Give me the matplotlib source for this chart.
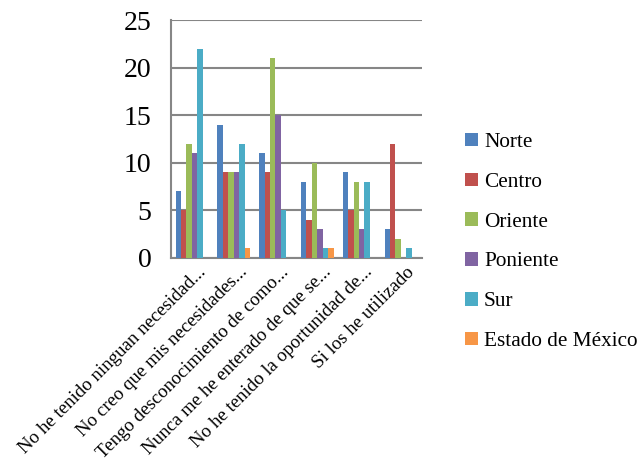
import numpy as np
import matplotlib.pyplot as plt

categories = ['No he tenido ninguan necesidad...',
              'No creo que mis necesidades...',
              'Tengo desconocimiento de como...',
              'Nunca me he enterado de que se...',
              'No he tenido la oportunidad de...',
              'Si los he utilizado']
series = ['Norte', 'Centro', 'Oriente', 'Poniente', 'Sur', 'Estado de México']
norte = [7, 14, 11, 8, 9, 3]
centro = [5, 9, 9, 4, 5, 12]
oriente = [12, 9, 21, 10, 8, 2]
poniente = [11, 9, 15, 3, 3, 0]
sur = [22, 12, 5, 1, 8, 1]
edomex = [0, 1, 0, 1, 0, 0]
colors = ['#4F81BD', '#C0504D', '#9BBB59', '#8064A2', '#4BACC6', '#F79646']

plt.rcParams['font.family'] = ['Liberation Serif', 'DejaVu Serif']

fig = plt.figure(figsize=(6.38, 4.68), dpi=100)
ax = fig.add_axes([0.268, 0.449, 0.393, 0.508])

ind = np.arange(len(categories))
width = 0.13
values = [norte, centro, oriente, poniente, sur, edomex]
for i, (name, vals) in enumerate(zip(series, values)):
    ax.bar(ind + (i - 2.5) * width, vals, width, color=colors[i], label=name, zorder=3)

ax.set_xlim(-0.5, len(categories) - 0.5)
ax.set_ylim(0, 25)
ax.set_yticks(np.arange(0, 26, 5))
ax.yaxis.grid(True, color='#868686', linewidth=1.5, zorder=0)
ax.tick_params(axis='y', length=0, labelsize=20, pad=14)
ax.tick_params(axis='x', length=0, labelsize=13.6, pad=4)
ax.set_xticks(ind + 0.12)
ax.set_xticklabels(categories, rotation=45, ha='right', rotation_mode='anchor')
for s in ['top', 'right']:
    ax.spines[s].set_visible(False)
for s in ['left', 'bottom']:
    ax.spines[s].set_color('#868686')
    ax.spines[s].set_linewidth(1.5)

ax.legend(loc='center left', bbox_to_anchor=(1.096, 0.067), frameon=False,
          fontsize=15.3, handlelength=0.6, handleheight=0.6, handletextpad=0.3,
          labelspacing=0.97)

fig.savefig('out.png', dpi=100)
